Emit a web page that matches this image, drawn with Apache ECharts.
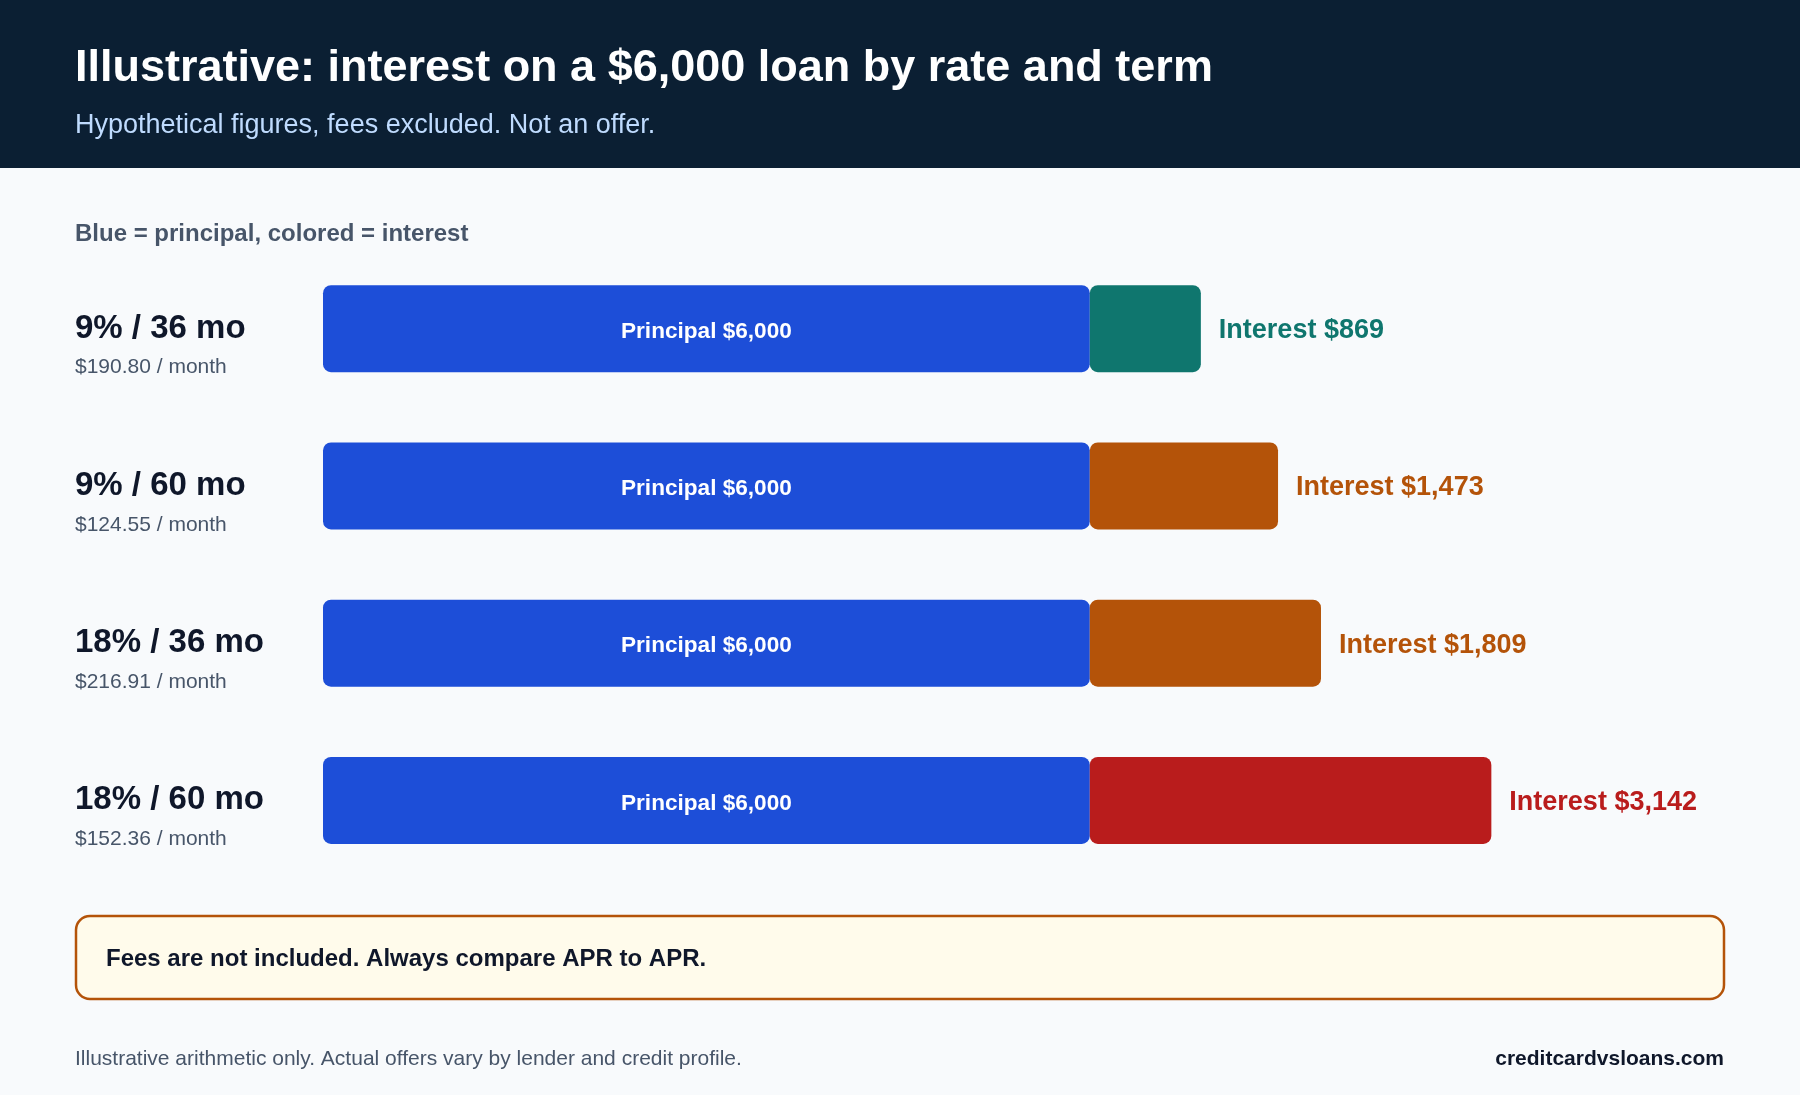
<!DOCTYPE html>
<html>
<head>
<meta charset="utf-8">
<title>Interest on a $6,000 loan</title>
<script src="https://cdn.jsdelivr.net/npm/echarts@6.0.0/dist/echarts.min.js"></script>
<style>
  html, body { margin: 0; padding: 0; background: #f8fafc; }
  #chart { width: 1800px; height: 1095px; }
</style>
</head>
<body>
<div id="chart"></div>
<script>
// data
var rowLabels = ['9% / 36 mo', '9% / 60 mo', '18% / 36 mo', '18% / 60 mo'];
var monthlyPayments = ['$190.80', '$124.55', '$216.91', '$152.36'];
var principal = [6000, 6000, 6000, 6000];
var interest = [869, 1473, 1809, 3142];
var interestColors = ['#0f766e', '#b45309', '#b45309', '#b91c1c'];

var FONT = "'Liberation Sans', Arial, sans-serif";
var chart = echarts.init(document.getElementById('chart'));

function money(v) {
    return '$' + Number(v).toLocaleString('en-US');
}

function txt(x, y, text, size, color, bold, align) {
    return {
        type: 'text',
        x: x,
        y: y,
        style: {
            text: text,
            font: (bold ? 'bold ' : '') + size + 'px ' + FONT,
            fill: color,
            textAlign: align || 'left',
            textVerticalAlign: 'middle',
            align: align || 'left',
            verticalAlign: 'middle'
        }
    };
}

var option = {
    backgroundColor: '#f8fafc',
    textStyle: { fontFamily: FONT },
    animation: false,
    grid: { left: 323, top: 250, width: 1278, height: 629 },
    xAxis: {
        type: 'value',
        min: 0,
        max: 10000,
        show: false
    },
    yAxis: {
        type: 'category',
        inverse: true,
        data: rowLabels,
        axisLine: { show: false },
        axisTick: { show: false },
        splitLine: { show: false },
        axisLabel: {
            align: 'left',
            margin: 248,
            padding: [38, 0, 0, 0],
            formatter: function (v, i) {
                return '{a|' + v + '}\n{b|' + monthlyPayments[i] + ' / month}';
            },
            rich: {
                a: { fontSize: 33, fontWeight: 'bold', color: '#0f172a', lineHeight: 40, fontFamily: FONT },
                b: { fontSize: 21, color: '#475569', lineHeight: 38, fontFamily: FONT }
            }
        }
    },
    series: [
        {
            name: 'Principal',
            type: 'bar',
            stack: 'loan',
            barWidth: 87,
            data: principal,
            itemStyle: { color: '#1d4ed8', borderRadius: 8 },
            label: {
                show: true,
                position: 'inside',
                offset: [0, 3],
                color: '#ffffff',
                fontSize: 22.6,
                fontWeight: 'bold',
                fontFamily: FONT,
                formatter: function (p) { return 'Principal ' + money(p.value); }
            }
        },
        {
            name: 'Interest',
            type: 'bar',
            stack: 'loan',
            barWidth: 87,
            data: interest.map(function (v, i) {
                return {
                    value: v,
                    itemStyle: { color: interestColors[i] },
                    label: { color: interestColors[i] }
                };
            }),
            itemStyle: { borderRadius: 8 },
            label: {
                show: true,
                position: 'right',
                distance: 18,
                offset: [0, 2],
                fontSize: 27,
                fontWeight: 'bold',
                fontFamily: FONT,
                formatter: function (p) { return 'Interest ' + money(p.value); }
            }
        }
    ],
    graphic: [
        {
            type: 'rect',
            shape: { x: 0, y: 0, width: 1800, height: 168 },
            style: { fill: '#0b1f33' },
            z: -1
        },
        txt(75, 69, 'Illustrative: interest on a $6,000 loan by rate and term', 45, '#ffffff', true),
        txt(75, 126, 'Hypothetical figures, fees excluded. Not an offer.', 27, '#bfdbfe', false),
        txt(75, 234, 'Blue = principal, colored = interest', 24, '#475569', true),
        {
            type: 'rect',
            shape: { x: 76, y: 916, width: 1648, height: 83, r: 14 },
            style: { fill: '#fffbeb', stroke: '#b45309', lineWidth: 2.5 }
        },
        txt(106, 959, 'Fees are not included. Always compare APR to APR.', 24, '#0f172a', true),
        txt(75, 1059, 'Illustrative arithmetic only. Actual offers vary by lender and credit profile.', 21, '#475569', false),
        txt(1724, 1059, 'creditcardvsloans.com', 21, '#0f172a', true, 'right')
    ]
};

chart.setOption(option);
</script>
</body>
</html>
